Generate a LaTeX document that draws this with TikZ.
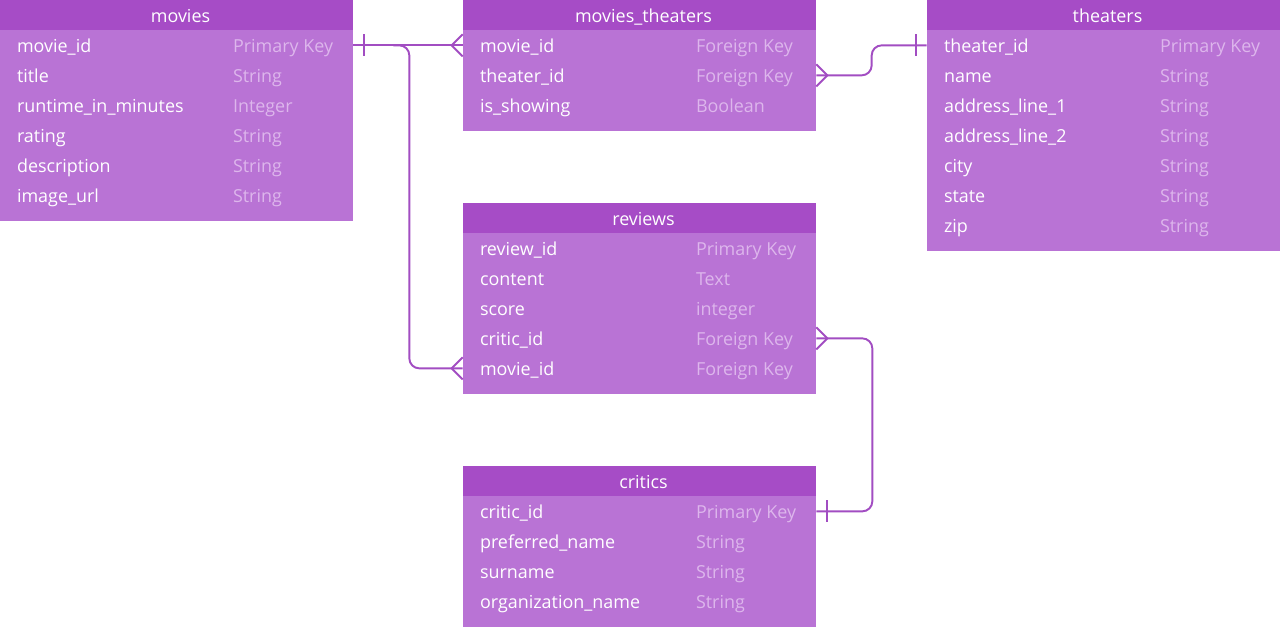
\documentclass[tikz,border=0pt]{standalone}
\usepackage{fontspec}
\setmainfont{Open Sans}
\usepackage{xcolor}
\definecolor{erhead}{HTML}{A64CC6}
\definecolor{erbody}{HTML}{B973D5}
\definecolor{ertype}{HTML}{DDB6EC}
\definecolor{erline}{HTML}{A24DC2}
\usetikzlibrary{calc, positioning}

\tikzset{
  tblhead/.style={fill=erhead, minimum width=7.06cm, minimum height=0.6cm, inner sep=0pt},
  tblrow/.style={minimum width=7.06cm, minimum height=0.6cm, inner sep=0pt},
  tbltitle/.style={text=white, anchor=base, inner sep=0pt, font=\fontsize{10.2}{12}\selectfont},
  colname/.style={text=white, anchor=base west, inner sep=0pt, font=\fontsize{10.2}{12}\selectfont},
  coltype/.style={text=ertype, anchor=base west, inner sep=0pt, font=\fontsize{10.2}{12}\selectfont},
  relline/.style={erline, line width=1.1pt},
  relbend/.style={relline, rounded corners=5.7pt}
}

\begin{document}
\begin{tikzpicture}[x=0.02cm, y=-0.02cm]
  \useasboundingbox (0,0) rectangle (1280,629);

  % table bodies
  \fill[erbody] (0,29) rectangle (353,221);
  \fill[erbody] (463,29) rectangle (816,131);
  \fill[erbody] (927,29) rectangle (1280,251);
  \fill[erbody] (463,232) rectangle (816,394);
  \fill[erbody] (463,495) rectangle (816,627);

  % --- movies ---
  \node[tblhead] (mv) at (176.5,15) {};
  \node[tbltitle] at ($(mv.center)+(4,7)$) {movies};
  \foreach \n/\t [count=\i] in {movie\_id/Primary Key, title/String, runtime\_in\_minutes/Integer, rating/String, description/String, image\_url/String} {
    \node[tblrow] (mv-\i) at ($(mv.south)+(0,30*\i-15)$) {};
    \node[colname] at ($(mv-\i.west)+(17,7)$) {\n};
    \node[coltype] at ($(mv-\i.west)+(233,7)$) {\t};
  }

  % --- movies_theaters ---
  \node[tblhead] (mt) at (639.5,15) {};
  \node[tbltitle] at ($(mt.center)+(4,7)$) {movies\_theaters};
  \foreach \n/\t [count=\i] in {movie\_id/Foreign Key, theater\_id/Foreign Key, is\_showing/Boolean} {
    \node[tblrow] (mt-\i) at ($(mt.south)+(0,30*\i-15)$) {};
    \node[colname] at ($(mt-\i.west)+(17,7)$) {\n};
    \node[coltype] at ($(mt-\i.west)+(233,7)$) {\t};
  }

  % --- theaters ---
  \node[tblhead] (th) at (1103.5,15) {};
  \node[tbltitle] at ($(th.center)+(4,7)$) {theaters};
  \foreach \n/\t [count=\i] in {theater\_id/Primary Key, name/String, address\_line\_1/String, address\_line\_2/String, city/String, state/String, zip/String} {
    \node[tblrow] (th-\i) at ($(th.south)+(0,30*\i-15)$) {};
    \node[colname] at ($(th-\i.west)+(17,7)$) {\n};
    \node[coltype] at ($(th-\i.west)+(233,7)$) {\t};
  }

  % --- reviews ---
  \node[tblhead] (rv) at (639.5,218) {};
  \node[tbltitle] at ($(rv.center)+(4,7)$) {reviews};
  \foreach \n/\t [count=\i] in {review\_id/Primary Key, content/Text, score/integer, critic\_id/Foreign Key, movie\_id/Foreign Key} {
    \node[tblrow] (rv-\i) at ($(rv.south)+(0,30*\i-15)$) {};
    \node[colname] at ($(rv-\i.west)+(17,7)$) {\n};
    \node[coltype] at ($(rv-\i.west)+(233,7)$) {\t};
  }

  % --- critics ---
  \node[tblhead] (cr) at (639.5,481) {};
  \node[tbltitle] at ($(cr.center)+(4,7)$) {critics};
  \foreach \n/\t [count=\i] in {critic\_id/Primary Key, preferred\_name/String, surname/String, organization\_name/String} {
    \node[tblrow] (cr-\i) at ($(cr.south)+(0,30*\i-15)$) {};
    \node[colname] at ($(cr-\i.west)+(17,7)$) {\n};
    \node[coltype] at ($(cr-\i.west)+(233,7)$) {\t};
  }

  % --- relations ---
  % movies -> movies_theaters
  \draw[relline] (mv-1.east) -- (mt-1.west);
  \draw[relline] ($(mv-1.east)+(11,-11)$) -- ++(0,22);
  \draw[relline] ($(mt-1.west)+(0,-11)$) -- ($(mt-1.west)+(-11,0)$) -- ($(mt-1.west)+(0,11)$);
  % movies -> reviews
  \draw[relbend] ($(mv-1.east)+(40,0)$) -- ($(mv-1.east)+(56,0)$) |- (rv-5.west);
  \draw[relline] ($(rv-5.west)+(0,-11)$) -- ($(rv-5.west)+(-11,0)$) -- ($(rv-5.west)+(0,11)$);
  % theaters -> movies_theaters
  \draw[relbend] (th-1.west) -- ($(th-1.west)+(-55,0)$) |- (mt-2.east);
  \draw[relline] ($(th-1.west)+(-11,-11)$) -- ++(0,22);
  \draw[relline] ($(mt-2.east)+(0,-11)$) -- ($(mt-2.east)+(11,0)$) -- ($(mt-2.east)+(0,11)$);
  % critics -> reviews
  \draw[relbend] (rv-4.east) -- ($(rv-4.east)+(56,0)$) |- (cr-1.east);
  \draw[relline] ($(rv-4.east)+(0,-11)$) -- ($(rv-4.east)+(11,0)$) -- ($(rv-4.east)+(0,11)$);
  \draw[relline] ($(cr-1.east)+(11,-11)$) -- ++(0,22);
\end{tikzpicture}
\end{document}
